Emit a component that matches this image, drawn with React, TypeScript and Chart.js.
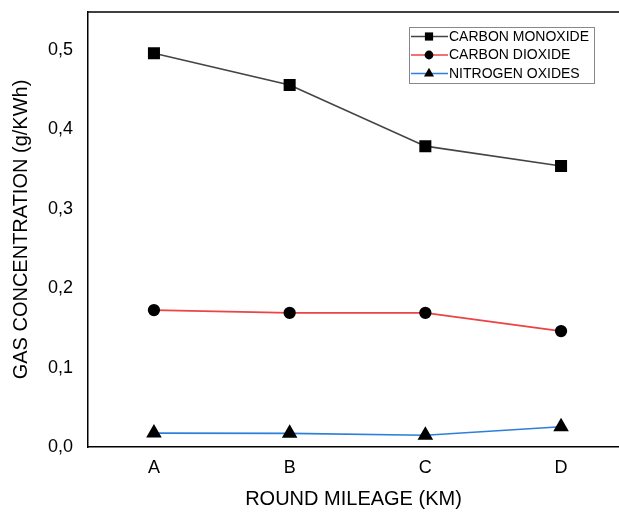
import React, { useEffect, useRef } from "react";
import { Chart, registerables } from "chart.js";

Chart.register(...registerables);

const categories = ["A", "B", "C", "D"];
const carbonMonoxide = [0.496, 0.456, 0.379, 0.354];
const carbonDioxide = [0.1725, 0.169, 0.169, 0.146];
const nitrogenOxides = [0.0176, 0.0172, 0.0148, 0.0255];
const yTicks = [0, 0.1, 0.2, 0.3, 0.4, 0.5];
const seriesNames = ["CARBON MONOXIDE", "CARBON DIOXIDE", "NITROGEN OXIDES"];

const FONT = "Arial, 'Liberation Sans', sans-serif";

function drawMarker(ctx: CanvasRenderingContext2D, style: string, x: number, y: number, r: number) {
  ctx.beginPath();
  if (style === "rect") {
    const s = r * Math.SQRT1_2;
    ctx.rect(x - s, y - s, 2 * s, 2 * s);
  } else if (style === "triangle") {
    ctx.moveTo(x, y - r);
    ctx.lineTo(x + r * 0.866, y + r * 0.5);
    ctx.lineTo(x - r * 0.866, y + r * 0.5);
    ctx.closePath();
  } else {
    ctx.arc(x, y, r, 0, Math.PI * 2);
  }
  ctx.fill();
}

const frameAndLegend = {
  id: "frameAndLegend",
  afterDraw(chart: any) {
    const ctx = chart.ctx;
    const a = chart.chartArea;
    ctx.save();
    ctx.strokeStyle = "#000";
    ctx.lineWidth = 1.5;
    ctx.beginPath();
    ctx.moveTo(a.left, a.top);
    ctx.lineTo(chart.width, a.top);
    ctx.stroke();

    const bx = 409, by = 27, bw = 185, bh = 56;
    ctx.fillStyle = "#fff";
    ctx.fillRect(bx, by, bw, bh);
    ctx.strokeStyle = "#888";
    ctx.lineWidth = 1;
    ctx.strokeRect(bx + 0.5, by + 0.5, bw, bh);
    chart.data.datasets.forEach((ds: any, i: number) => {
      const y = by + 9.5 + i * 18.5;
      ctx.strokeStyle = ds.borderColor;
      ctx.lineWidth = 1.5;
      ctx.beginPath();
      ctx.moveTo(bx + 2, y);
      ctx.lineTo(bx + 39, y);
      ctx.stroke();
      const r = ds.pointStyle === "rect" ? 5.8 : ds.pointStyle === "triangle" ? 5.8 : 4.4;
      ctx.fillStyle = "#000";
      drawMarker(ctx, ds.pointStyle, bx + 20, y, r);
      ctx.fillStyle = "#000";
      ctx.font = "14px " + FONT;
      ctx.textBaseline = "middle";
      ctx.textAlign = "left";
      ctx.fillText(ds.label, bx + 40, y + 0.5);
    });
    ctx.restore();
  },
};

export default function App() {
  const ref = useRef<HTMLCanvasElement>(null);
  useEffect(() => {
    if (!ref.current) return;
    const mk = (vals: number[]) => vals.map((v, i) => ({ x: i, y: v }));
    const chart = new Chart(ref.current, {
      type: "line",
      data: {
        datasets: [
          {
            label: seriesNames[0],
            data: mk(carbonMonoxide),
            borderColor: "#444444",
            pointBackgroundColor: "#000",
            pointBorderColor: "#000",
            pointStyle: "rect",
            pointRadius: 7.3,
            borderWidth: 1.7,
          },
          {
            label: seriesNames[1],
            data: mk(carbonDioxide),
            borderColor: "#ec4343",
            pointBackgroundColor: "#000",
            pointBorderColor: "#000",
            pointStyle: "circle",
            pointRadius: 5.3,
            borderWidth: 1.7,
          },
          {
            label: seriesNames[2],
            data: mk(nitrogenOxides),
            borderColor: "#2d7fdc",
            pointBackgroundColor: "#000",
            pointBorderColor: "#000",
            pointStyle: "triangle",
            pointRadius: 7.3,
            borderWidth: 1.7,
          },
        ],
      },
      options: {
        animation: false,
        responsive: false,
        events: [],
        layout: { autoPadding: false, padding: { top: 12, right: 0, left: 0, bottom: 0 } },
        plugins: { legend: { display: false }, tooltip: { enabled: false } },
        scales: {
          x: {
            type: "linear",
            min: -0.486,
            max: 3.427,
            grid: { display: false, drawTicks: false },
            border: { display: true, color: "#000", width: 1.5 },
            afterBuildTicks: (s: any) => {
              s.ticks = categories.map((_, i) => ({ value: i }));
            },
            afterFit: (s: any) => {
              s.height = 66;
              s.paddingLeft = 0;
              s.paddingRight = 0;
            },
            ticks: {
              padding: 10,
              color: "#000",
              font: { family: FONT, size: 18 },
              callback: (v: any) => categories[v] ?? "",
              maxRotation: 0,
              autoSkip: false,
            },
            title: {
              display: true,
              text: "ROUND MILEAGE (KM)",
              color: "#000",
              font: { family: FONT, size: 20 },
              padding: { top: 3, bottom: 2 },
            },
          },
          y: {
            min: 0,
            max: 0.548,
            grid: { display: false, drawTicks: false },
            border: { display: true, color: "#000", width: 1.5 },
            afterBuildTicks: (s: any) => {
              s.ticks = yTicks.map((v) => ({ value: v }));
            },
            afterFit: (s: any) => {
              s.width = 88;
              s.paddingTop = 0;
              s.paddingBottom = 0;
            },
            ticks: {
              padding: 15,
              color: "#000",
              font: { family: FONT, size: 18 },
              callback: (v: any) => Number(v).toFixed(1).replace(".", ","),
            },
            title: {
              display: true,
              text: "GAS CONCENTRATION (g/KWh)",
              color: "#000",
              font: { family: FONT, size: 20 },
              padding: { top: 9, bottom: 0 },
            },
          },
        },
      },
      plugins: [frameAndLegend],
    } as any);
    return () => chart.destroy();
  }, []);
  return (
    <div style={{ position: "fixed", left: 0, top: 0, width: 619, height: 513, background: "#fff" }}>
      <canvas ref={ref} width={619} height={513} style={{ width: 619, height: 513, display: "block" }} />
    </div>
  );
}
